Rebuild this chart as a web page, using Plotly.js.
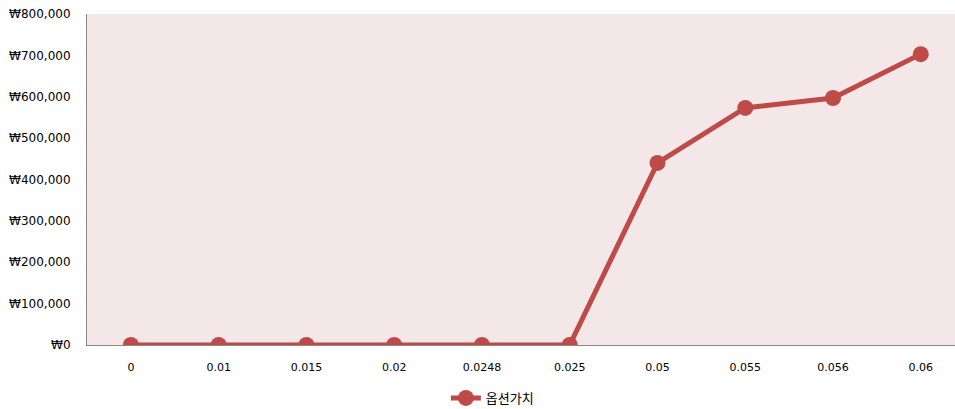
<!DOCTYPE html>
<html><head><meta charset="utf-8">
<script src="https://cdn.plot.ly/plotly-3.0.1.min.js"></script>
<style>html,body{margin:0;padding:0;background:#fff;overflow:hidden}</style>
</head><body><div id="chart" style="width:955px;height:409px"></div>
<script>
const categories = ["0","0.01","0.015","0.02","0.0248","0.025","0.05","0.055","0.056","0.06"];
const optionValues = [0,0,0,0,0,0,440000,573000,597000,703000];
const seriesName = "옵션가치";
const yTicks = [0,100000,200000,300000,400000,500000,600000,700000,800000];
const yTickText = yTicks.map(v => "₩" + v.toLocaleString("en-US"));

const trace = {
  x: categories, y: optionValues, name: seriesName, type: "scatter", mode: "lines+markers",
  line: {color: "#BE4B48", width: 5},
  marker: {color: "#BE4B48", size: 16},
  showlegend: true
};
const layout = {
  width: 955, height: 409,
  margin: {l: 87, r: 0, t: 14, b: 64, autoexpand: false},
  paper_bgcolor: "#ffffff", plot_bgcolor: "#F3E7E7",
  font: {family: "DejaVu Sans, sans-serif", size: 11, color: "#000"},
  xaxis: {type: "category", range: [-0.5, 9.39], showgrid: false, zeroline: false,
    showline: true, linecolor: "#888", linewidth: 1, ticks: "", tickfont: {size: 11},
    ticklabelstandoff: 12, automargin: false},
  yaxis: {range: [0, 800000], tickvals: yTicks, ticktext: yTickText, tickfont: {size: 12},
    showgrid: false, zeroline: false, showline: true, linecolor: "#888", linewidth: 1, ticks: "",
    ticklabelstandoff: 13, automargin: false, fixedrange: true},
  legend: {orientation: "h", x: 0.467, xanchor: "center", xref: "paper", yref: "paper", y: -0.16, yanchor: "middle",
    font: {family: "Noto Sans CJK KR, sans-serif", size: 13}},
  showlegend: true
};
Plotly.newPlot("chart", [trace], layout, {displayModeBar: false, staticPlot: true});
</script></body></html>
